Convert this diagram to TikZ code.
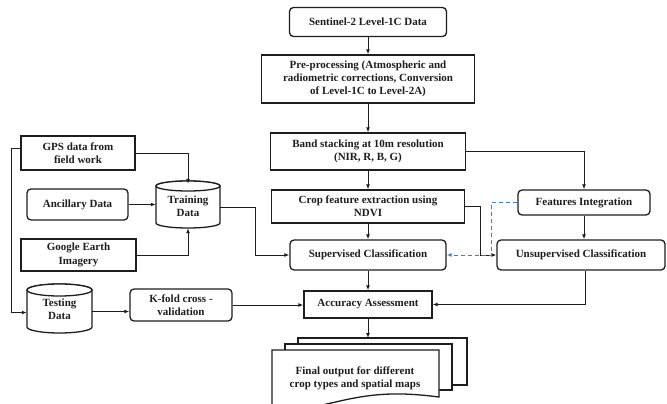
\documentclass[tikz,border=0pt]{standalone}
\usepackage{fontspec}
\setmainfont{Liberation Serif}
\usetikzlibrary{arrows.meta}
\definecolor{ink}{HTML}{1E1E1E}
\definecolor{dashblue}{HTML}{4A7AB8}
\begin{document}
\begin{tikzpicture}[x=1pt,y=1pt,
  txt/.style={font=\bfseries\fontsize{11}{13.3}\selectfont, text=ink, align=center, inner sep=1pt},
  box/.style={txt, draw=ink, line width=1.3pt, fill=white},
  rbox/.style={box, rounded corners=4pt},
  arr/.style={draw=ink, line width=1pt, -{Latex[length=5pt,width=4pt]}},
  darr/.style={draw=dashblue, line width=1pt, dashed, dash pattern=on 4pt off 3pt, -{Latex[length=5pt,width=4pt]}},
  cyl/.style={draw=ink, line width=1.3pt, fill=white}]
\clip (0,0) rectangle (667,-404);
\fill[white] (0,0) rectangle (667,-404);

% main column
\node[rbox, minimum width=157pt, minimum height=29pt] (sent) at (368,-22) {Sentinel-2 Level-1C Data};
\node[box, minimum width=213pt, minimum height=48pt] (pre) at (368,-79) {Pre-processing (Atmospheric and\\radiometric corrections, Conversion\\of Level-1C to Level-2A)};
\node[box, minimum width=195pt, minimum height=37pt] (band) at (368,-151.5) {Band stacking at 10m resolution\\(NIR, R, B, G)};
\node[box, minimum width=193pt, minimum height=33pt] (crop) at (368,-206.5) {Crop feature extraction using\\NDVI};
\node[rbox, minimum width=156pt, minimum height=30pt] (sup) at (368,-255) {Supervised Classification};
\node[box, minimum width=128pt, minimum height=27pt] (acc) at (368,-304.5) {Accuracy Assessment};

% right column
\node[rbox, minimum width=132pt, minimum height=25pt] (fi) at (584,-202.5) {Features Integration};
\node[rbox, minimum width=168pt, minimum height=30pt] (unsup) at (581,-255) {Unsupervised Classification};

% left column
\node[box, minimum width=114pt, minimum height=34pt] (gps) at (78,-153) {GPS data from\\field work};
\node[rbox, minimum width=101pt, minimum height=31pt] (anc) at (77.5,-204.5) {Ancillary Data};
\node[box, minimum width=115pt, minimum height=32pt] (ge) at (78.5,-255) {Google Earth\\Imagery};
\node[rbox, minimum width=102pt, minimum height=32pt] (kfold) at (181,-305) {K-fold cross -\\validation};

% cylinders
\draw[cyl] (156,-186) -- (156,-223) arc[start angle=180, end angle=360, x radius=32pt, y radius=5pt] -- (220,-186) arc[start angle=0, end angle=180, x radius=32pt, y radius=5pt] -- cycle;
\draw[cyl] (188,-186) ellipse[x radius=32pt, y radius=5pt];
\node[txt, minimum width=64pt, minimum height=47pt] (train) at (188,-206) {Training\\Data};

\draw[cyl] (27,-290) -- (27,-327) arc[start angle=180, end angle=360, x radius=32.5pt, y radius=6pt] -- (92,-290) arc[start angle=0, end angle=180, x radius=32.5pt, y radius=6pt] -- cycle;
\draw[cyl] (59.5,-290) ellipse[x radius=32.5pt, y radius=6pt];
\node[txt, minimum width=65pt, minimum height=49pt] (test) at (59.5,-309.5) {Testing\\Data};

% document stack
\draw[cyl] (298,-338) rectangle (467,-385);
\draw[cyl] (285,-344) rectangle (452,-390);
\draw[cyl] (272,-420) -- (272,-350) -- (439,-350) -- (439,-397)
  .. controls (400,-392) and (375,-393) .. (340,-401)
  .. controls (310,-408) and (290,-412) .. (272,-410);
\node[txt] (final) at (355,-378) {Final output for different\\crop types and spatial maps};
\coordinate (stacktop) at (368,-338);

% connectors
\draw[arr] (sent.south) -- (pre.north);
\draw[arr] (pre.south) -- (band.north);
\draw[arr] (band.south) -- (crop.north);
\draw[arr] (crop.south) -- (sup.north);
\draw[arr] (sup.south) -- (acc.north);
\draw[arr] (acc.south) -- (stacktop);

\draw[arr] (gps.east) -| ([yshift=-1.5pt]train.north);
\draw[arr] (anc.east) -- (anc.east -| train.west);
\draw[arr] (ge.east) -| ([yshift=1.5pt]train.south);
\draw[arr] ([yshift=5pt]gps.west) -| ([xshift=-15pt,yshift=-3pt]test.west) -- ([yshift=-3pt]test.west);
\draw[arr] ([yshift=-1.5pt]train.east) -- ++(35,0) |- (sup.west);
\draw[arr] ([yshift=-2pt]test.east) -- ([yshift=-2pt]test.east -| kfold.west);
\draw[arr] (kfold.east) -- (kfold.east -| acc.west);

\draw[arr] (band.east) -| (fi.north);
\draw[arr] (fi.south) -- (fi.south |- unsup.north);
\draw[arr] (crop.east) -- ++(15,0) |- (unsup.west);
\draw[darr] (fi.west) -- ++(-26,0) |- (sup.east);
\draw[arr] ([xshift=4pt]unsup.south) |- (acc.east);
\end{tikzpicture}
\end{document}
